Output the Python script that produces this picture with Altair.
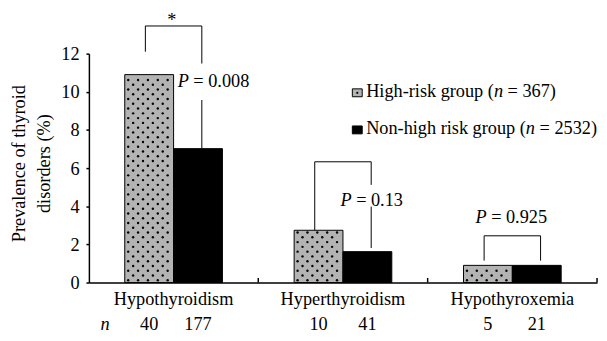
import altair as alt
import pandas as pd

# ---------------- data ----------------
categories = ["Hypothyroidism", "Hyperthyroidism", "Hypothyroxemia"]
groups = ["High-risk group", "Non-high risk group"]
group_sizes = [367, 2532]
high_risk = [10.9, 2.74, 0.9]
non_high = [7.02, 1.62, 0.9]
n_high = [40, 10, 5]
n_non = [177, 41, 21]
p_values = ["0.008", "0.13", "0.925"]
sig_marks = ["*", "", ""]

# comparison brackets (y in % units)
bracket_top = [13.45, 6.33, 2.45]
bracket_left_end = [12.1, 2.74, 1.15]
bracket_right_end = [7.03, 1.81, 1.15]
bracket_gap_top = [11.48, 5.12, 1.15]
bracket_gap_bottom = [9.57, 3.98, 1.15]
p_label_y = [10.24, 4.03, 3.14]
p_label_start = [0.524, 0.485, 0.282]  # fraction of category band

# ---------------- layout / style ----------------
W, H = 515, 232
YMAX = 12
FONT = "Liberation Serif, Times New Roman, DejaVu Serif, serif"
FS = 18.5
P_OUT = 0.734
STEP = W / len(categories)
PX_PER_UNIT = H / YMAX
GRAY = "#b3b3b3"
BAR_FRAC = 1 / (2 + 2 * P_OUT)
BAR_LEFT = 0.5 - BAR_FRAC

ROMAN = {" ": 250, "(": 333, ")": 333, "-": 333, "=": 564, ".": 250, "*": 500,
         "H": 722, "N": 722, "P": 556, "a": 444, "b": 500, "c": 444, "d": 500,
         "e": 444, "f": 333, "g": 500, "h": 500, "i": 278, "k": 500, "l": 278,
         "m": 778, "n": 500, "o": 500, "p": 500, "r": 333, "s": 389, "t": 278,
         "u": 500, "v": 500, "x": 500, "y": 500}
for d in "0123456789":
    ROMAN[d] = 500
ITALIC = {"P": 611, "n": 500}


def tw(s, table=ROMAN):
    return sum(table[c] for c in s) / 1000 * FS


def xq(px):
    return px / STEP


def yv(py):
    return (H - py) / PX_PER_UNIT


# ---------------- tables ----------------
bar_rows = []
for i, c in enumerate(categories):
    bar_rows.append(dict(category=c, group=groups[0], value=high_risk[i], idx=i))
    bar_rows.append(dict(category=c, group=groups[1], value=non_high[i], idx=i))
bars_df = pd.DataFrame(bar_rows)

ann_rows = []
for i in range(len(categories)):
    ann_rows.append(dict(
        xl=i + 1 / 3, xr=i + 2 / 3,
        bt=bracket_top[i], le=bracket_left_end[i], re=bracket_right_end[i],
        gt=bracket_gap_top[i], gb=bracket_gap_bottom[i],
        tick_x=i + 1, ty0=0.0, ty1=0.24,
    ))
ann_df = pd.DataFrame(ann_rows)

roman_left, italic_left, roman_center, italic_center = [], [], [], []
for i in range(len(categories)):
    start = i + p_label_start[i]
    italic_left.append(dict(x=start, y=p_label_y[i], text="P"))
    roman_left.append(dict(x=start + xq(tw("P", ITALIC) + tw(" ")), y=p_label_y[i],
                           text="= " + p_values[i]))
    if sig_marks[i]:
        roman_center.append(dict(x=i + 0.49, y=bracket_top[i], text=sig_marks[i]))
    roman_center.append(dict(x=i + 0.5 - BAR_FRAC / 2, y=yv(280), text=str(n_high[i])))
    roman_center.append(dict(x=i + 0.5 + BAR_FRAC / 2, y=yv(280), text=str(n_non[i])))
italic_center.append(dict(x=xq(16.5), y=yv(280), text="n"))

# legend (pixel layout converted into the chart's units)
LEG_X = 281
LEG_BASE = [43.7, 81.3]
patch_rows = []
for g, size, base in zip(groups, group_sizes, LEG_BASE):
    pre = g + " ("
    roman_left.append(dict(x=xq(LEG_X), y=yv(base), text=pre))
    nx = LEG_X + tw(pre)
    italic_left.append(dict(x=xq(nx), y=yv(base), text="n"))
    roman_left.append(dict(x=xq(nx + tw("n", ITALIC) + tw(" ")), y=yv(base),
                           text="= " + str(size) + ")"))
    patch_rows.append(dict(group=g, x1=xq(LEG_X - 14), x2=xq(LEG_X - 4),
                           y1=yv(base - 8), y2=yv(base)))
patch_df = pd.DataFrame(patch_rows)
patch_dot_df = pd.DataFrame([dict(x=xq(LEG_X - 9), y=yv(LEG_BASE[0] - 4))])

# ---------------- scales / axes ----------------
xs = alt.Scale(domain=[0, len(categories)], nice=False, zero=False)
ys = alt.Scale(domain=[0, YMAX], nice=False)
fill_scale = alt.Scale(domain=groups, range=[GRAY, "black"])
y_axis = alt.Axis(values=[0, 2, 4, 6, 8, 10, 12], format="d", grid=False,
                  tickSize=3, tickColor="black", tickWidth=1.5,
                  domainColor="black", domainWidth=1.5,
                  labelPadding=7, labelFont=FONT, labelFontSize=FS,
                  labelColor="black",
                  title=["Prevalence of thyroid", "disorders (%)"],
                  titleFont=FONT, titleFontSize=FS, titleFontWeight="normal",
                  titleColor="black", titleAngle=270, titleAlign="center",
                  titleBaseline="top", titleX=-80, titleY=111,
                  titleLineHeight=25.3)


def Y(field):
    return alt.Y(field, scale=ys, axis=y_axis)


# ---------------- layers ----------------
bars = alt.Chart(bars_df).mark_bar(stroke="black", strokeWidth=1).encode(
    x=alt.X("category:N", sort=categories,
            scale=alt.Scale(paddingInner=0, paddingOuter=0),
            axis=alt.Axis(title=None, labelAngle=0, ticks=False, tickSize=0,
                          labelPadding=7, labelFont=FONT, labelFontSize=FS,
                          labelColor="black", domainColor="black", domainWidth=1.5)),
    xOffset=alt.XOffset("group:N", sort=groups,
                        scale=alt.Scale(paddingOuter=P_OUT, paddingInner=0)),
    y=Y("value:Q"),
    fill=alt.Fill("group:N", scale=fill_scale, legend=None),
)

dots = alt.Chart(bars_df[bars_df["group"] == groups[0]]).transform_calculate(
    row="sequence(0, floor((datum.value - 0.17) / 0.25) + 1)"
).transform_flatten(["row"]).transform_calculate(
    col="datum.row % 2 == 0 ? sequence(0, 5) : sequence(0, 4)"
).transform_flatten(["col"]).transform_calculate(
    dx=f"datum.idx + {BAR_LEFT} + ((datum.row % 2 == 0 ? 3.5 : 8.5) + 10 * datum.col) / {STEP}",
    dy="datum.row * 0.25 + 0.12",
).mark_circle(size=6, color="black", opacity=1).encode(
    x=alt.X("dx:Q", scale=xs, axis=None),
    y=Y("dy:Q"),
)

ann = alt.Chart(ann_df)
rule = dict(color="black", strokeWidth=1)
b_top = ann.mark_rule(**rule).encode(
    x=alt.X("xl:Q", scale=xs, axis=None), x2="xr:Q", y=Y("bt:Q"))
b_left = ann.mark_rule(**rule).encode(
    x=alt.X("xl:Q", scale=xs, axis=None), y=Y("bt:Q"), y2="le:Q")
b_right_up = ann.mark_rule(**rule).encode(
    x=alt.X("xr:Q", scale=xs, axis=None), y=Y("bt:Q"), y2="gt:Q")
b_right_low = ann.mark_rule(**rule).encode(
    x=alt.X("xr:Q", scale=xs, axis=None), y=Y("gb:Q"), y2="re:Q")
x_ticks = ann.mark_rule(color="black", strokeWidth=1.5).encode(
    x=alt.X("tick_x:Q", scale=xs, axis=None), y=Y("ty0:Q"), y2="ty1:Q")


def text_layer(rows, align, italic=False):
    kw = dict(font=FONT, fontSize=FS, color="black", align=align, baseline="alphabetic")
    if italic:
        kw["fontStyle"] = "italic"
    return alt.Chart(pd.DataFrame(rows)).mark_text(**kw).encode(
        x=alt.X("x:Q", scale=xs, axis=None),
        y=Y("y:Q"),
        text="text:N",
    )


patches = alt.Chart(patch_df).mark_rect(stroke="black", strokeWidth=1).encode(
    x=alt.X("x1:Q", scale=xs, axis=None), x2="x2:Q",
    y=Y("y1:Q"), y2="y2:Q",
    fill=alt.Fill("group:N", scale=fill_scale, legend=None),
)
patch_dot = alt.Chart(patch_dot_df).mark_circle(size=5, color="black", opacity=1).encode(
    x=alt.X("x:Q", scale=xs, axis=None),
    y=Y("y:Q"),
)

chart = alt.layer(
    bars, dots, b_top, b_left, b_right_up, b_right_low, x_ticks,
    text_layer(roman_left, "left"), text_layer(italic_left, "left", True),
    text_layer(roman_center, "center"), text_layer(italic_center, "center", True),
    patches, patch_dot,
).resolve_scale(x="independent").properties(
    width=W, height=H,
    autosize=alt.AutoSizeParams(type="none"),
    padding={"left": 82, "top": 44, "right": 2, "bottom": 57},
    background="white",
).configure_view(stroke=None)

chart.save("out.html", embed_options={"renderer": "svg", "actions": False})
